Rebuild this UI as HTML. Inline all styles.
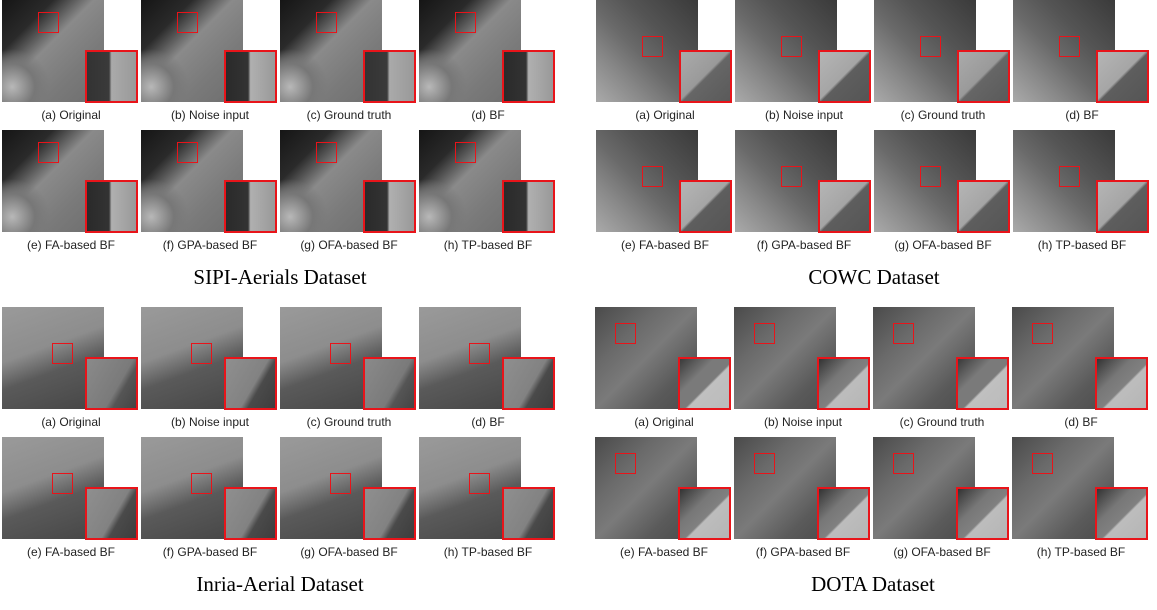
<!DOCTYPE html>
<html><head><meta charset="utf-8">
<style>
body{margin:0;width:1157px;height:610px;background:#fff;position:relative;overflow:hidden}
.img{position:absolute;width:102px;height:102px}
.inset{position:absolute;width:49px;height:49px;border:2px solid #e8141a}
.roi{position:absolute;width:19px;height:19px;border:1px solid #e8141a}
.cap{position:absolute;width:140px;text-align:center;font:12px "Liberation Sans",sans-serif;color:#222}
.title{position:absolute;width:560px;text-align:center;font:21px "Liberation Serif",serif;color:#000}
</style></head><body>
<script>
const panels=[
 {name:'sipi',title:'SIPI-Aerials Dataset',x0:2,y0:0,
  bg:'radial-gradient(circle at 10% 85%,#b8b8b8 0,#777 18%,transparent 30%),linear-gradient(135deg,#151515 0,#2a2a2a 25%,#8a8a8a 45%,#7a7a7a 70%,#6d6d6d 100%)',
  ins:['linear-gradient(90deg,#333 0,#3a3a3a 45%,#aaa 50%,#999 100%)','linear-gradient(90deg,#2a2a2a 0,#333 45%,#b0b0b0 50%,#999 100%)'],roi:[36,12]},
 {name:'cowc',title:'COWC Dataset',x0:596,y0:0,
  bg:'linear-gradient(45deg,#aaa 0,#888 25%,#6a6a6a 45%,#555 65%,#3a3a3a 100%)',
  ins:['linear-gradient(135deg,#aaa 0,#9a9a9a 48%,#666 52%,#5a5a5a 100%)','linear-gradient(135deg,#b5b5b5 0,#a5a5a5 48%,#5e5e5e 52%,#555 100%)'],roi:[46,36]},
 {name:'inria',title:'Inria-Aerial Dataset',x0:2,y0:307,
  bg:'linear-gradient(160deg,#9a9a9a 0,#8d8d8d 40%,#5a5a5a 60%,#454545 100%)',
  ins:['linear-gradient(120deg,#8a8a8a 0,#7a7a7a 60%,#555 70%,#444 100%)','linear-gradient(120deg,#8f8f8f 0,#828282 55%,#4a4a4a 65%,#3d3d3d 100%)'],roi:[50,36]},
 {name:'dota',title:'DOTA Dataset',x0:595,y0:307,
  bg:'linear-gradient(135deg,#4a4a4a 0,#6a6a6a 30%,#7a7a7a 50%,#5a5a5a 75%,#4a4a4a 100%)',
  ins:['linear-gradient(135deg,#3a3a3a 0,#7a7a7a 35%,#7a7a7a 55%,#c0c0c0 58%,#bbb 100%)','linear-gradient(135deg,#333 0,#777 35%,#808080 55%,#bdbdbd 58%,#b5b5b5 100%)'],roi:[20,16]}
];
const caps=['(a) Original','(b) Noise input','(c) Ground truth','(d) BF','(e) FA-based BF','(f) GPA-based BF','(g) OFA-based BF','(h) TP-based BF'];
const pitch=139, rowPitch=130;
panels.forEach(p=>{
  for(let i=0;i<8;i++){
    const c=i%4,r=Math.floor(i/4);
    const x=p.x0+c*pitch,y=p.y0+r*rowPitch;
    const im=document.createElement('div');im.className='img';
    
    
    im.style.left=x+'px';im.style.top=y+'px';im.style.background=p.bg;
    document.body.appendChild(im);
    const ro=document.createElement('div');ro.className='roi';
    
    
    ro.style.left=(x+p.roi[0])+'px';ro.style.top=(y+p.roi[1])+'px';
    document.body.appendChild(ro);
    const ins=document.createElement('div');ins.className='inset';
    
    
    ins.style.left=(x+83)+'px';ins.style.top=(y+50)+'px';
    ins.style.background=(i===0||i===2)?p.ins[0]:p.ins[1];
    document.body.appendChild(ins);
    const cp=document.createElement('div');cp.className='cap';
    
    
    cp.style.left=(x-1)+'px';cp.style.top=(y+108)+'px';cp.textContent=caps[i];
    document.body.appendChild(cp);
  }
  const t=document.createElement('div');t.className='title';
  
  
  t.style.left=(p.x0-2)+'px';t.style.top=(p.y0+265)+'px';t.textContent=p.title;
  document.body.appendChild(t);
});
</script>
</body></html>
